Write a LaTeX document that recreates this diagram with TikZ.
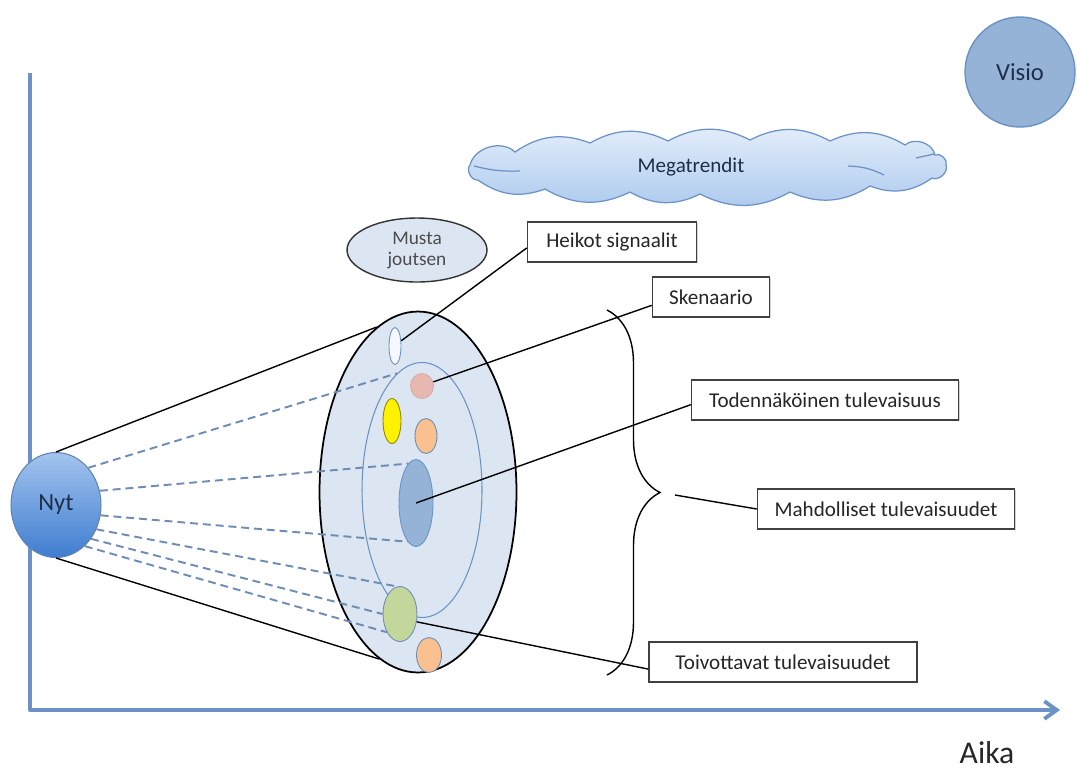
\documentclass[tikz,border=0pt]{standalone}
\usepackage{fontspec}
\setmainfont{Carlito}
\usetikzlibrary{arrows.meta,shapes.geometric,decorations.pathreplacing,shadows}

\definecolor{axisblue}{HTML}{6A92C6}
\definecolor{paleblue}{HTML}{DCE6F2}
\definecolor{midblue}{HTML}{95B3D7}
\definecolor{dashblue}{HTML}{6F8CB4}
\definecolor{navytext}{HTML}{1F2E4A}
\definecolor{balltop}{HTML}{A3C4EE}
\definecolor{ballbot}{HTML}{3F7DD0}
\definecolor{cloudtop}{HTML}{E4EEFA}
\definecolor{cloudbot}{HTML}{ACC9EE}

\tikzset{
  lbl/.style={draw=black!75, line width=0.9pt, fill=white, minimum height=0.8cm,
    inner sep=0pt, text=black!85, font=\fontsize{12}{14}\selectfont,
    drop shadow={shadow xshift=0.8pt, shadow yshift=-0.8pt, opacity=0.35}},
  spot/.style={ellipse, inner sep=0pt, line width=0.5pt},
  ray/.style={dashed, dash pattern=on 4.5pt off 2.8pt, line width=1.1pt, dashblue},
  rim/.style={line width=0.8pt, black},
  puff/.style={bend left=#1},
  puff/.default=28
}

\begin{document}
\begin{tikzpicture}[x=0.02cm, y=-0.02cm]
  \useasboundingbox (0,0) rectangle (1077,769);

  % axes
  \coordinate (ytop) at (30,73);
  \coordinate (orig) at (30,710);
  \coordinate (xend) at (1060,710);
  \draw[axisblue, line width=2.2pt, line join=round, -{Straight Barb[length=7pt,width=10pt]}]
    (ytop) -- (orig) -- (xend);
  \node[anchor=base, text=black!85, font=\fontsize{18}{20}\selectfont] (aika) at (987,763) {Aika};

  \node[circle, minimum size=2.2cm, fill=midblue, draw=axisblue, line width=0.8pt,
    text=navytext, font=\fontsize{14}{16}\selectfont] (visio) at (1020,72) {Visio};

  % megatrend cloud
  \draw[top color=cloudtop, bottom color=cloudbot, draw=axisblue, line width=0.7pt]
    (470,165) to[puff=60] (515,152) to[puff] (590,143) to[puff] (668,141) to[puff] (750,140)
    to[puff] (830,141) to[puff] (905,145) to[puff=60] (935,155) to[puff=70] (946,165)
    to[puff=70] (932,178) to[puff] (870,186) to[puff] (790,192) to[puff] (700,194)
    to[puff] (630,192) to[puff] (545,189) to[puff] (478,180) to[puff=70] cycle;
  \draw[axisblue, line width=0.7pt] (474,166) to[bend right=8] (520,171);
  \draw[axisblue, line width=0.7pt] (848,166) to[bend left=12] (884,175);
  \draw[axisblue, line width=0.7pt] (916,158) -- (934,154);
  \node[text=navytext, font=\fontsize{12}{14}\selectfont] (mega) at (691,167) {Megatrendit};

  \node[ellipse, minimum width=2.8cm, minimum height=1.28cm, inner sep=0pt, fill=paleblue,
    draw=black!80, line width=0.8pt, align=center, text=black!70,
    font=\fontsize{11}{12}\selectfont] (musta) at (417,250) {Musta\\joutsen};

  % futures cone
  \node[ellipse, minimum width=3.94cm, minimum height=7.22cm, inner sep=0pt, fill=paleblue,
    draw=black, line width=1pt] (fut) at (418,492) {};
  \node[ellipse, minimum width=2.4cm, minimum height=5.1cm, inner sep=0pt,
    draw=axisblue, line width=0.6pt] (inner) at (422,490) {};
  \node[spot, minimum width=0.24cm, minimum height=0.74cm, fill=blue!3, draw=axisblue] (sig) at (395,346) {};
  \node[spot, minimum width=0.46cm, minimum height=0.5cm, fill={rgb,255:red,230;green,184;blue,176}, draw={rgb,255:red,215;green,170;blue,165}] (pink) at (422,386) {};
  \node[spot, minimum width=0.36cm, minimum height=0.9cm, fill=yellow, draw=olive] (yel) at (392,421) {};
  \node[spot, minimum width=0.44cm, minimum height=0.7cm, fill={rgb,255:red,250;green,192;blue,144}, draw=dashblue] (org) at (426,436) {};
  \node[spot, minimum width=0.68cm, minimum height=1.74cm, fill=midblue, draw=axisblue] (blue) at (416,503) {};
  \node[spot, minimum width=0.68cm, minimum height=1.1cm, fill={rgb,255:red,195;green,214;blue,155}, draw=dashblue] (green) at (400,614) {};
  \node[spot, minimum width=0.5cm, minimum height=0.7cm, fill={rgb,255:red,250;green,192;blue,144}, draw=dashblue] (orgb) at (429,655) {};

  \node[ellipse, minimum width=1.8cm, minimum height=2.1cm, inner sep=0pt, top color=balltop,
    bottom color=ballbot, draw=axisblue!90!black, line width=0.6pt,
    text=navytext, font=\fontsize{14}{16}\selectfont] (nyt) at (56,505) {Nyt};

  % rays from now
  \draw[rim] (nyt.north) -- (fut.104);
  \draw[rim] (nyt.south) -- (fut.257);
  \draw[ray] (nyt.49) -- (inner.102);
  \draw[ray] (nyt.18) -- (blue.101);
  \draw[ray] (nyt.-13) -- (blue.258);
  \draw[ray] (nyt.-31) -- (green.96);
  \draw[ray] (nyt.-44) -- (green.west);
  \draw[ray] (nyt.-55) -- (green.234);

  % labels
  \node[lbl, minimum width=3.38cm] (heikot) at (612,242) {Heikot signaalit};
  \node[lbl, minimum width=2.34cm] (sken) at (711,297) {Skenaario};
  \node[lbl, minimum width=5.34cm] (toden) at (825,400) {Todennäköinen tulevaisuus};
  \node[lbl, minimum width=5.14cm] (mahd) at (886,509) {Mahdolliset tulevaisuudet};
  \node[lbl, minimum width=5.36cm] (toiv) at (783,662) {Toivottavat tulevaisuudet};

  \coordinate (brtop) at (607,310);
  \coordinate (brbot) at (607,675);
  \coordinate (brtip) at (675,495);
  \draw[rim, decorate, decoration={brace, amplitude=1.06cm}] (brtop) -- (brbot);

  \draw[rim] (heikot.184) -- (sig.40);
  \draw[rim] (sken.188) -- (pink.20);
  \draw[rim] (toden.182) -- (blue.center);
  \draw[rim] (mahd.west) -- (brtip);
  \draw[rim] (toiv.183) -- (green.-25);
\end{tikzpicture}
\end{document}
